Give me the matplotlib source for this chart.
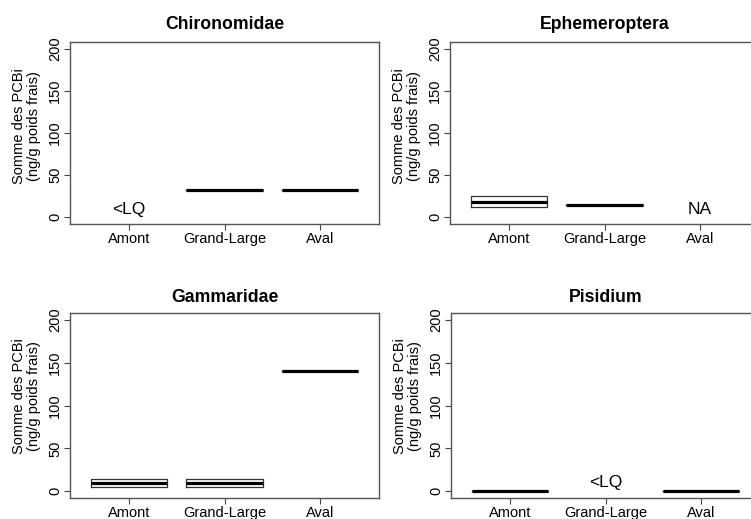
import matplotlib
matplotlib.use("Agg")
import matplotlib.pyplot as plt

plt.rcParams['font.family'] = ['Liberation Sans', 'DejaVu Sans']

sites = ["Amont", "Grand-Large", "Aval"]
taxa = ["Chironomidae", "Ephemeroptera", "Gammaridae", "Pisidium"]

# (q1, median, q3) per site; None = no box, text shown instead
stats = {
    "Chironomidae": [None, (32, 32, 32), (32, 32, 32)],
    "Ephemeroptera": [(12, 18.5, 25), (14, 14, 14), None],
    "Gammaridae": [(5, 10, 14), (5, 9.5, 14), (140, 140, 140)],
    "Pisidium": [(0, 0, 0), None, (0, 0, 0)],
}
notes = {
    "Chironomidae": [("<LQ", 1, 9)],
    "Ephemeroptera": [("NA", 3, 9)],
    "Gammaridae": [],
    "Pisidium": [("<LQ", 2, 10)],
}
yticks = [0, 50, 100, 150, 200]

W, H = 751, 519
fig = plt.figure(figsize=(W / 100, H / 100), dpi=100)

# axes boxes in pixels: left, top, right, bottom
boxes = [(70, 42, 379, 224), (450, 42, 759, 224),
         (70, 313, 379, 498), (451, 313, 760, 498)]
label_y = [0.54, 0.54, 0.55, 0.55]
title_pad = [9.5, 9.5, 8, 8]

for i, name in enumerate(taxa):
    l, t, r, b = boxes[i]
    ax = fig.add_axes([l / W, 1 - b / H, (r - l) / W, (b - t) / H])

    bxps = []
    pos = []
    for j, s in enumerate(stats[name]):
        if s is None:
            continue
        q1, med, q3 = s
        bxps.append(dict(med=med, q1=q1, q3=q3, whislo=q1, whishi=q3, fliers=[]))
        pos.append(j + 1)
    ax.bxp(bxps, positions=pos, widths=0.8, showcaps=False, showfliers=False,
           boxprops=dict(color='#333333', lw=0.9),
           whiskerprops=dict(color='#333333', lw=0.9),
           medianprops=dict(color='black', lw=2.3, solid_capstyle='butt'))

    for txt, x, y in notes[name]:
        ax.text(x, y, txt, ha='center', va='center', fontsize=12.5)

    ax.set_xlim(0.38, 3.62)
    ax.set_ylim(-8, 208)
    ax.set_xticks([1, 2, 3])
    ax.set_xticklabels(sites, fontsize=10.5)
    ax.set_yticks(yticks)
    ax.set_yticklabels([str(v) for v in yticks], fontsize=10.5, rotation=90, va='center')
    ax.tick_params(axis='x', length=4, pad=2, color='#444444')
    ax.tick_params(axis='y', length=4, pad=1.5, color='#444444')
    for sp in ax.spines.values():
        sp.set_color('#555555')
        sp.set_linewidth(1.0)

    ax.set_title(name, fontsize=12.7, fontweight='bold', pad=title_pad[i])
    ax.text(-0.141, label_y[i], "Somme des PCBi\n(ng/g poids frais)", transform=ax.transAxes,
            rotation=90, ha='center', va='center', fontsize=10.5, linespacing=1.15,
            multialignment='center')

fig.savefig("out.png", dpi=100)
